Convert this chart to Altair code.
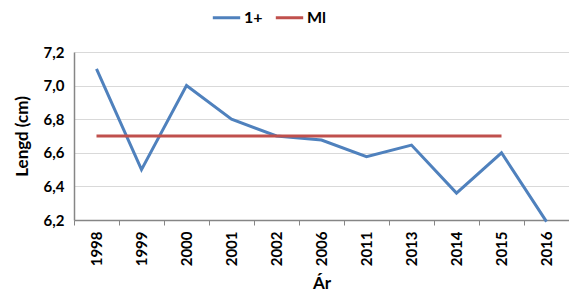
import altair as alt
import pandas as pd

years = ["1998", "1999", "2000", "2001", "2002", "2006", "2011", "2013", "2014", "2015", "2016"]
series_1 = [7.10, 6.50, 7.00, 6.80, 6.70, 6.676, 6.577, 6.646, 6.36, 6.60, 6.19]
ml_years = ["1998", "1999", "2000", "2001", "2002", "2006", "2011", "2013", "2014", "2015"]
ml_vals = [6.70, 6.70, 6.70, 6.70, 6.70, 6.70, 6.70, 6.70, 6.70, 6.70]

rows = [{"Ár": y, "v": v, "s": "1+"} for y, v in zip(years, series_1)]
rows += [{"Ár": y, "v": v, "s": "Ml"} for y, v in zip(ml_years, ml_vals)]
df = pd.DataFrame(rows)

FONT = "Lato"

chart = alt.Chart(df).mark_line(strokeWidth=3, clip=False).encode(
    x=alt.X("Ár:N", sort=years, bandPosition=0.5,
            scale=alt.Scale(type="band", domain=years, paddingInner=0, paddingOuter=0),
            axis=alt.Axis(labelAngle=-90, labelAlign="right", labelBaseline="middle",
                          labelPadding=6, tickBand="extent", tickSize=5, grid=False,
                          title="Ár", titlePadding=10)),
    y=alt.Y("v:Q", scale=alt.Scale(domain=[6.2, 7.2], nice=False, zero=False),
            axis=alt.Axis(values=[6.2, 6.4, 6.6, 6.8, 7.0, 7.2], tickSize=0, labelPadding=10,
                          labelExpr="replace(format(datum.value, '.1f'), '.', ',')",
                          title="Lengd (cm)", titlePadding=12)),
    color=alt.Color("s:N", scale=alt.Scale(domain=["1+", "Ml"], range=["#4F81BD", "#C0504D"]),
                    legend=alt.Legend(title=None, orient="none", direction="horizontal",
                                      legendX=137, legendY=-50, symbolType="stroke",
                                      symbolSize=750, symbolStrokeWidth=3, labelFontSize=16,
                                      labelFont=FONT, labelFontWeight="bold", labelColor="#000",
                                      columnPadding=6, labelOffset=2)),
).properties(
    width=495, height=168,
    autosize=alt.AutoSizeParams(type="none"),
    padding={"left": 66, "top": 44, "right": 0, "bottom": 72},
).configure_view(stroke=None).configure_axis(
    labelFont=FONT, labelFontSize=15, labelFontWeight="bold", labelColor="#000",
    titleFont=FONT, titleFontSize=17, titleFontWeight="bold", titleColor="#000",
    domainColor="#868686", domainWidth=1.5, tickColor="#868686",
    gridColor="#D9D9D9", gridWidth=1,
)

chart.save("out.html", embed_options={"renderer": "svg", "actions": False})
